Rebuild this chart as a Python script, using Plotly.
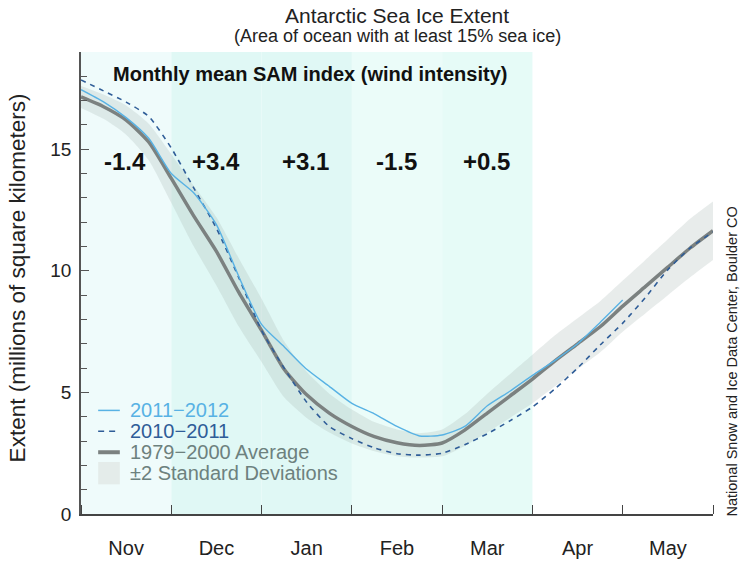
import plotly.graph_objects as go

# ---------------- data ----------------
month_labels = ["Nov", "Dec", "Jan", "Feb", "Mar", "Apr", "May"]
sam_months = ["Nov", "Dec", "Jan", "Feb", "Mar"]
sam_index = [-1.4, 3.4, 3.1, -1.5, 0.5]

# time in months since 1 November
t = [0.0, 0.25, 0.5, 0.75, 1.0, 1.25, 1.5, 1.75, 2.0, 2.25, 2.5, 2.75, 3.0,
     3.25, 3.5, 3.75, 4.0, 4.25, 4.5, 4.75, 5.0, 5.25, 5.5, 5.75, 6.0,
     6.25, 6.5, 6.75, 7.0]

avg_1979_2000 = [17.15, 16.75, 16.2, 15.3, 13.8, 12.25, 10.8, 9.1, 7.55,
                 5.95, 4.9, 4.15, 3.6, 3.18, 2.93, 2.82, 2.92, 3.45, 4.15,
                 4.85, 5.55, 6.3, 7.0, 7.7, 8.55, 9.35, 10.15, 10.95, 11.65]

sd2 = [0.45, 0.5, 0.6, 0.75, 1.0, 1.25, 1.4, 1.4, 1.3, 1.15, 0.95, 0.8, 0.7,
       0.6, 0.55, 0.5, 0.55, 0.65, 0.8, 0.9, 1.0, 1.05, 1.05, 1.05, 1.05,
       1.1, 1.15, 1.2, 1.2]

t_2011_2012 = [0.0, 0.25, 0.5, 0.75, 1.0, 1.25, 1.5, 1.75, 2.0, 2.25, 2.5,
               2.75, 3.0, 3.25, 3.5, 3.75, 4.0, 4.25, 4.5, 4.75, 5.0, 5.25,
               5.5, 5.75, 6.0]
ext_2011_2012 = [17.45, 16.95, 16.3, 15.45, 14.0, 13.2, 11.9, 9.75, 7.8,
                 6.88, 5.95, 5.25, 4.55, 4.12, 3.6, 3.21, 3.25, 3.6, 4.45,
                 5.05, 5.7, 6.32, 7.0, 7.88, 8.8]

ext_2010_2011 = [17.85, 17.4, 16.94, 16.35, 15.05, 13.4, 11.75, 9.7, 7.55,
                 6.0, 4.6, 3.6, 3.1, 2.72, 2.48, 2.42, 2.5, 2.85, 3.3,
                 3.83, 4.4, 5.15, 6.0, 6.95, 7.85, 8.9, 10.05, 10.95, 11.6]

# ---------------- styles ----------------
band_colors = ["#effbfb", "#e0f8f5", "#e0f8f5", "#ebfcf9", "#e6fbf7"]
c_avg = "#7b8180"
c_1011 = "#2f5d98"
c_1112 = "#58b2e4"
c_legend_gray = "#6d817e"
FONT = "Liberation Sans, Arial, sans-serif"

lower = [a - s for a, s in zip(avg_1979_2000, sd2)]
upper = [a + s for a, s in zip(avg_1979_2000, sd2)]

fig = go.Figure()
fig.add_trace(go.Scatter(x=t, y=lower, mode="lines",
                         line=dict(width=0, shape="spline", smoothing=0.6),
                         hoverinfo="skip", showlegend=False))
fig.add_trace(go.Scatter(x=t, y=upper, mode="lines",
                         line=dict(width=0, shape="spline", smoothing=0.6),
                         fill="tonexty", fillcolor="rgba(170,185,182,0.27)",
                         name="±2 Standard Deviations", showlegend=False))
fig.add_trace(go.Scatter(x=t, y=avg_1979_2000, mode="lines",
                         line=dict(color=c_avg, width=3.5, shape="spline", smoothing=0.6),
                         name="1979−2000 Average", showlegend=False))
fig.add_trace(go.Scatter(x=t, y=ext_2010_2011, mode="lines",
                         line=dict(color=c_1011, width=1.6, dash="5px,5px",
                                   shape="spline", smoothing=0.6),
                         name="2010−2011", showlegend=False))
fig.add_trace(go.Scatter(x=t_2011_2012, y=ext_2011_2012, mode="lines",
                         line=dict(color=c_1112, width=1.4, shape="spline", smoothing=0.6),
                         name="2011−2012", showlegend=False))

shapes = []
for i, m in enumerate(sam_months):
    shapes.append(dict(type="rect", xref="x", yref="paper", x0=i, x1=i + 1, y0=0, y1=1,
                       fillcolor=band_colors[i], line=dict(width=0), layer="below"))

# manual legend
lx0, lx1 = 0.19, 0.43
shapes.append(dict(type="line", xref="x", yref="y", x0=lx0, x1=lx1, y0=4.26, y1=4.26,
                   line=dict(color=c_1112, width=1.5)))
shapes.append(dict(type="line", xref="x", yref="y", x0=lx0, x1=lx1, y0=3.40, y1=3.40,
                   line=dict(color=c_1011, width=1.5, dash="6px,5px")))
shapes.append(dict(type="line", xref="x", yref="y", x0=lx0, x1=lx1, y0=2.54, y1=2.54,
                   line=dict(color=c_avg, width=4)))
shapes.append(dict(type="rect", xref="x", yref="y", x0=lx0, x1=lx1, y0=1.22, y1=2.14,
                   fillcolor="#e4ecea", line=dict(width=0)))

annotations = []
legend_items = [("2011\u22122012", c_1112, 4.26), ("2010\u22122011", c_1011, 3.40),
                ("1979\u22122000 Average", c_legend_gray, 2.54),
                ("\u00b12 Standard Deviations", c_legend_gray, 1.68)]
for txt, col, yy in legend_items:
    annotations.append(dict(x=0.53, y=yy, xref="x", yref="y", text=txt, showarrow=False,
                            xanchor="left", yanchor="middle", borderpad=0,
                            font=dict(family=FONT, size=20, color=col)))

for i, v in enumerate(sam_index):
    annotations.append(dict(x=i + 0.49, y=14.5, xref="x", yref="y",
                            text="<b>" + f"{v:+.1f}" + "</b>",
                            showarrow=False, xanchor="center", yanchor="middle",
                            font=dict(family=FONT, size=24, color="#111")))
annotations.append(dict(x=2.54, y=18.1, xref="x", yref="y",
                        text="<b>Monthly mean SAM index (wind intensity)</b>",
                        showarrow=False, xanchor="center", yanchor="middle",
                        font=dict(family=FONT, size=20, color="#111")))
annotations.append(dict(x=0.5, y=1.078, xref="paper", yref="paper",
                        text="Antarctic Sea Ice Extent", showarrow=False,
                        xanchor="center", yanchor="middle", borderpad=0,
                        font=dict(family=FONT, size=21, color="#222")))
annotations.append(dict(x=0.5, y=1.035, xref="paper", yref="paper",
                        text="(Area of ocean with at least 15% sea ice)", showarrow=False,
                        xanchor="center", yanchor="middle", borderpad=0,
                        font=dict(family=FONT, size=18, color="#222")))
annotations.append(dict(x=-64 / 632, y=0.51, xref="paper", yref="paper",
                        text="Extent (millions of square kilometers)", showarrow=False,
                        textangle=-90, xanchor="center", yanchor="middle",
                        font=dict(family=FONT, size=22.5, color="#222")))
annotations.append(dict(x=651 / 632, y=0.33, xref="paper", yref="paper",
                        text="National Snow and Ice Data Center, Boulder CO", showarrow=False,
                        textangle=-90, xanchor="center", yanchor="middle",
                        font=dict(family=FONT, size=14.5, color="#222")))

fig.update_layout(
    width=744, height=571,
    margin=dict(l=81, r=31, t=52, b=44),
    paper_bgcolor="white", plot_bgcolor="white",
    shapes=shapes, annotations=annotations, showlegend=False,
    xaxis=dict(range=[0, 7], showgrid=False, zeroline=False,
               tickmode="array", tickvals=[i + 0.5 for i in range(7)],
               ticktext=month_labels, ticks="",
               tickfont=dict(family=FONT, size=20, color="#222"),
               ticklabelstandoff=15,
               showline=True, linecolor="#444", linewidth=1.5,
               minor=dict(ticks="inside", tick0=0, dtick=1, ticklen=9,
                          tickcolor="#444", tickwidth=1.3, showgrid=False)),
    yaxis=dict(range=[0, 19], showgrid=False, zeroline=False,
               tickmode="array", tickvals=[0, 5, 10, 15], ticktext=["0", "5", "10", "15"],
               ticks="inside", ticklen=8, tickcolor="#555", tickwidth=1.3,
               tickfont=dict(family=FONT, size=19, color="#222"),
               ticklabelstandoff=4,
               showline=True, linecolor="#555", linewidth=1.5,
               minor=dict(ticks="inside", tick0=0, dtick=1, ticklen=6,
                          tickcolor="#555", tickwidth=1.2, showgrid=False)),
)

# remove the browser's default 8px page margin so the 744x571 figure fills the window
fig.write_html("out.html", config={"displayModeBar": False},
               post_script="document.body.style.margin='0px';")
